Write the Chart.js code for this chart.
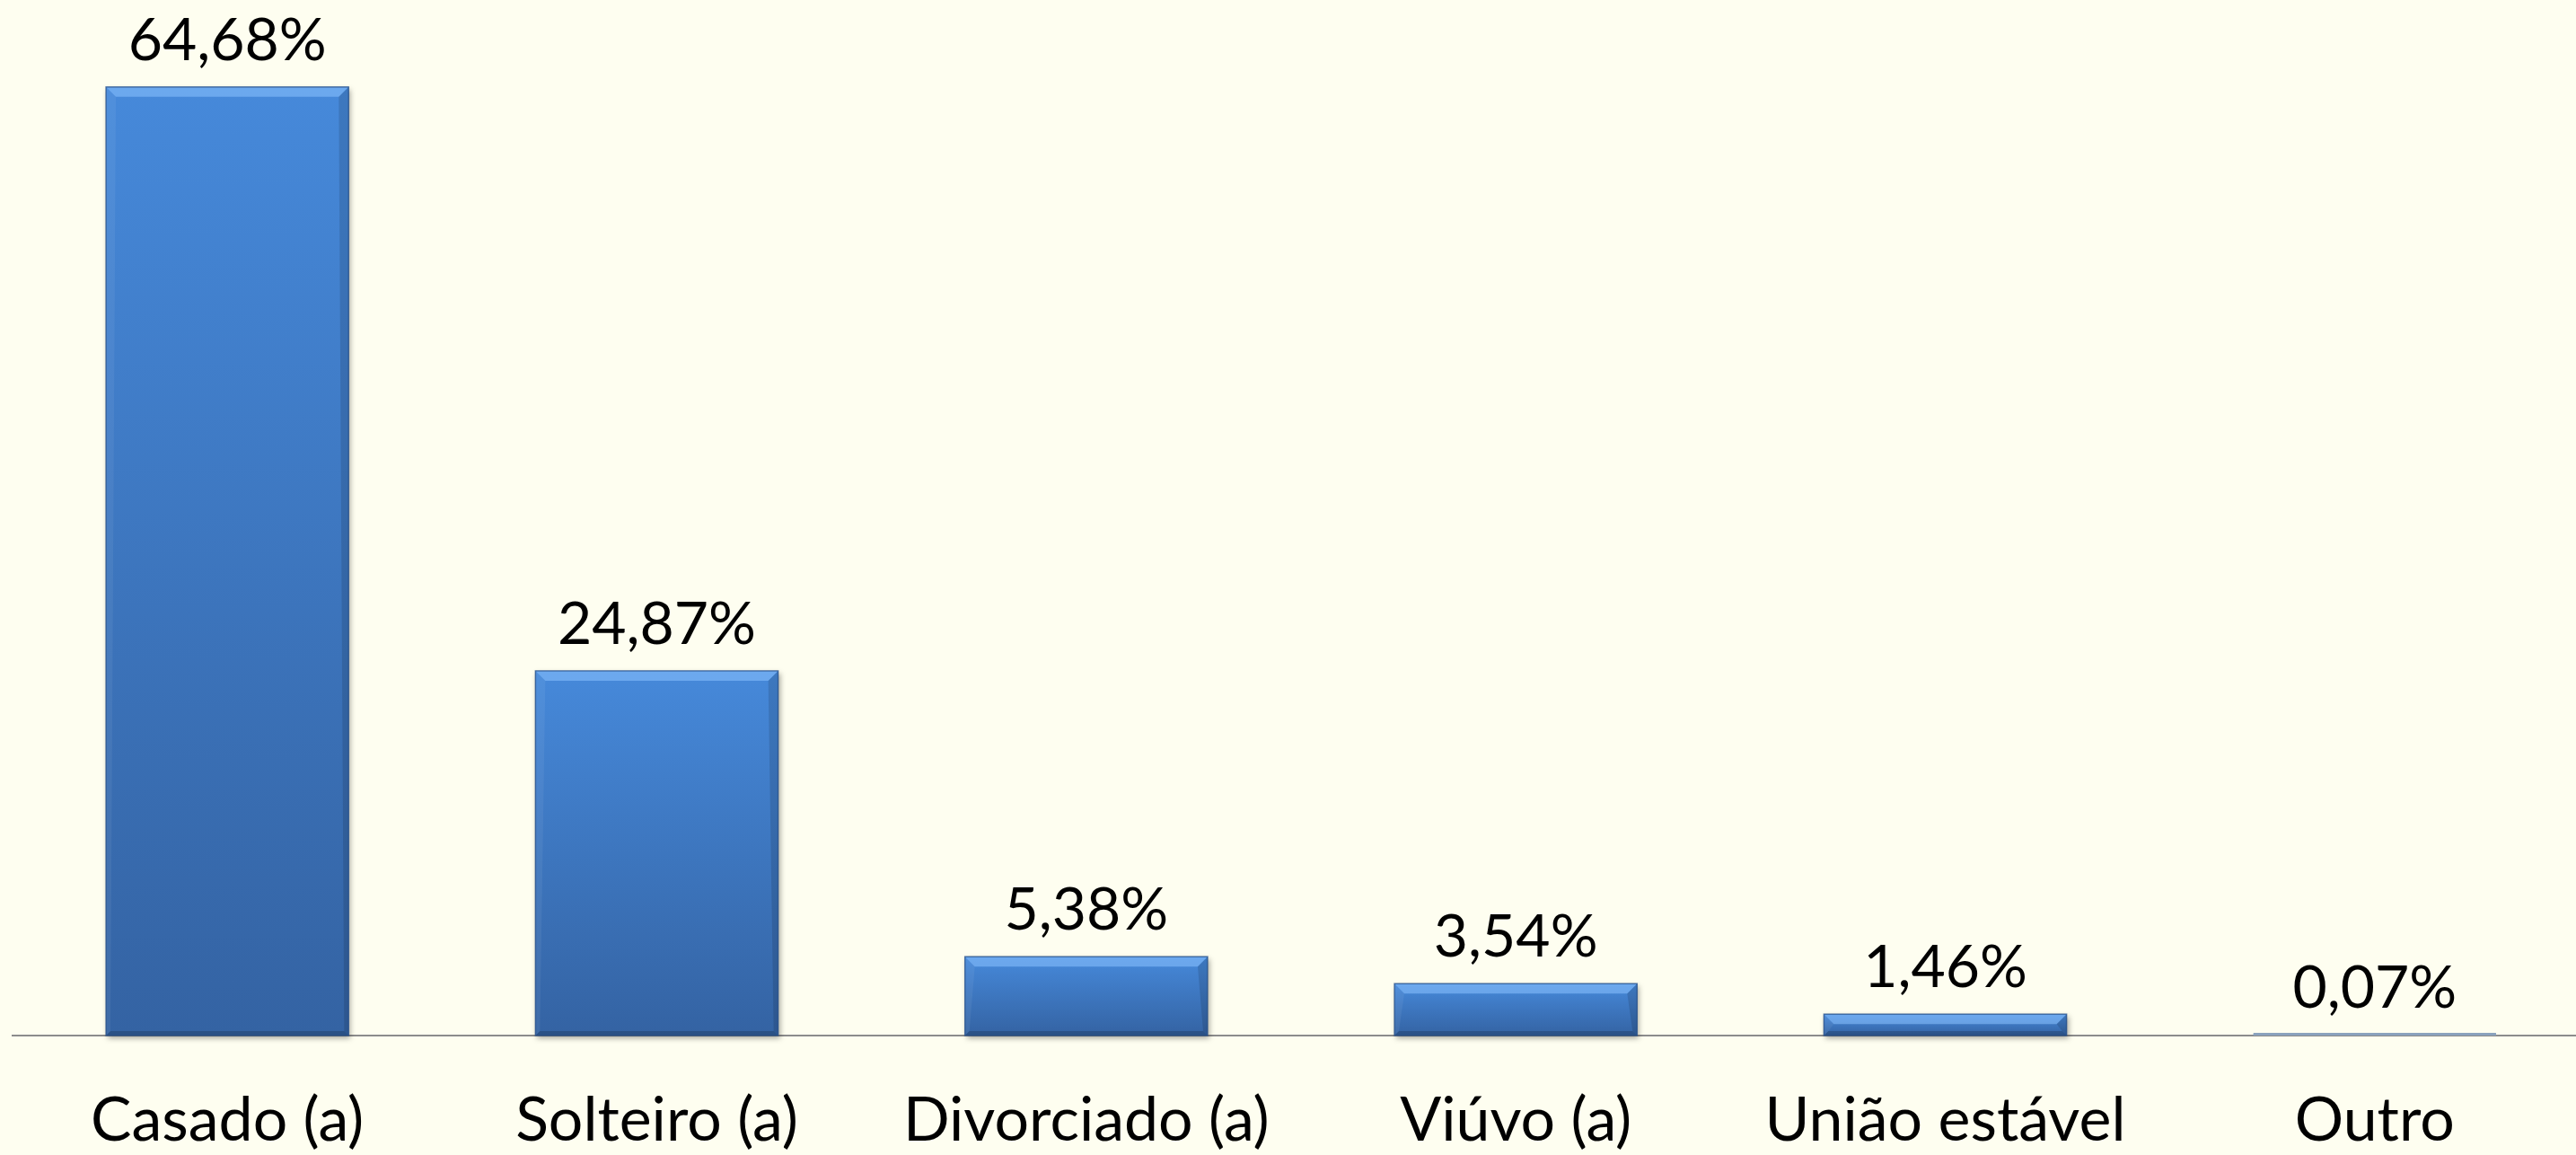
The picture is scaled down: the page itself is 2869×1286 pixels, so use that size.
<!DOCTYPE html>
<html>
<head>
<meta charset="utf-8">
<script src="https://cdn.jsdelivr.net/npm/chart.js@4.4.0/dist/chart.umd.min.js"></script>
<style>
  html, body { margin: 0; padding: 0; background: #FEFEF0; overflow: hidden; }
  #wrap { position: absolute; left: 0; top: 0; width: 2884px; height: 1286px; }
</style>
</head>
<body>
<div id="wrap"><canvas id="chart"></canvas></div>
<script>
// Estado civil (%)
const categories = ['Casado (a)', 'Solteiro (a)', 'Divorciado (a)', 'Viúvo (a)', 'União estável', 'Outro'];
const values = [64.68, 24.87, 5.38, 3.54, 1.46, 0.07];

const FONT = 'Lato, "Open Sans", sans-serif';

function fmt(v) {
    return v.toFixed(2).replace('.', ',') + '%';
}

// paints the Excel-like bevelled bars over the library's bar rectangles
const bevelBars = {
    id: 'bevelBars',
    afterDatasetsDraw(chart) {
        const ctx = chart.ctx;
        const meta = chart.getDatasetMeta(0);
        meta.data.forEach(bar => {
            const left = bar.x - bar.width / 2;
            const right = bar.x + bar.width / 2;
            const top = bar.y;
            const bottom = bar.base;
            const h = bottom - top;
            if (h <= 0) return;

            ctx.save();
            if (h < 4) {
                ctx.fillStyle = '#8aa2bd';
                ctx.fillRect(left, bottom - 3, right - left, 3);
                ctx.restore();
                return;
            }
            ctx.shadowColor = 'rgba(0,0,0,0.35)';
            ctx.shadowBlur = 6;
            ctx.shadowOffsetX = 2;
            ctx.shadowOffsetY = 3;
            const g = ctx.createLinearGradient(0, top, 0, bottom);
            g.addColorStop(0, '#4689da');
            g.addColorStop(1, '#3463a3');
            ctx.fillStyle = g;
            ctx.fillRect(left, top, right - left, h);
            ctx.restore();

            const b = Math.min(11, h / 2);
            const s = Math.min(5, h / 2);
            ctx.save();
            // top bevel
            ctx.fillStyle = 'rgba(140,195,255,0.55)';
            ctx.beginPath();
            ctx.moveTo(left, top);
            ctx.lineTo(right, top);
            ctx.lineTo(right - b, top + b);
            ctx.lineTo(left + b, top + b);
            ctx.closePath();
            ctx.fill();
            // left bevel
            ctx.fillStyle = 'rgba(255,255,255,0.06)';
            ctx.beginPath();
            ctx.moveTo(left, top);
            ctx.lineTo(left + b, top + b);
            ctx.lineTo(left + s, bottom - s);
            ctx.lineTo(left, bottom);
            ctx.closePath();
            ctx.fill();
            // right bevel
            ctx.fillStyle = 'rgba(0,0,0,0.12)';
            ctx.beginPath();
            ctx.moveTo(right, top);
            ctx.lineTo(right - b, top + b);
            ctx.lineTo(right - s, bottom - s);
            ctx.lineTo(right, bottom);
            ctx.closePath();
            ctx.fill();
            // bottom bevel
            ctx.fillStyle = 'rgba(0,0,0,0.18)';
            ctx.beginPath();
            ctx.moveTo(left, bottom);
            ctx.lineTo(right, bottom);
            ctx.lineTo(right - s, bottom - s);
            ctx.lineTo(left + s, bottom - s);
            ctx.closePath();
            ctx.fill();
            // outline
            ctx.strokeStyle = 'rgba(40,80,135,0.7)';
            ctx.lineWidth = 1.5;
            ctx.strokeRect(left, top, right - left, h);
            ctx.restore();
        });
    }
};

// value labels above each bar
const valueLabels = {
    id: 'valueLabels',
    afterDatasetsDraw(chart) {
        const ctx = chart.ctx;
        const meta = chart.getDatasetMeta(0);
        ctx.save();
        ctx.font = '66px ' + FONT;
        ctx.fillStyle = '#000000';
        ctx.textAlign = 'center';
        ctx.textBaseline = 'alphabetic';
        meta.data.forEach((bar, i) => {
            ctx.fillText(fmt(values[i]), bar.x, bar.y - 30);
        });
        ctx.restore();
    }
};

new Chart(document.getElementById('chart'), {
    type: 'bar',
    data: {
        labels: categories,
        datasets: [{
            data: values,
            backgroundColor: '#3f7bc8',
            borderWidth: 0,
            categoryPercentage: 1.0,
            barPercentage: 0.565
        }]
    },
    options: {
        responsive: true,
        maintainAspectRatio: false,
        animation: false,
        layout: { padding: { left: 14, top: 10, right: 0, bottom: 0 } },
        plugins: {
            legend: { display: false },
            tooltip: { enabled: false }
        },
        scales: {
            x: {
                grid: { display: false, drawTicks: false },
                border: { display: true, color: '#8c8c8c', width: 2 },
                ticks: {
                    color: '#000000',
                    font: { family: FONT, size: 68 },
                    padding: 54,
                    maxRotation: 0,
                    autoSkip: false
                },
                afterFit(scale) {
                    scale.height = 133;
                }
            },
            y: {
                display: false,
                min: 0,
                max: 70
            }
        }
    },
    plugins: [bevelBars, valueLabels]
});
</script>
</body>
</html>
